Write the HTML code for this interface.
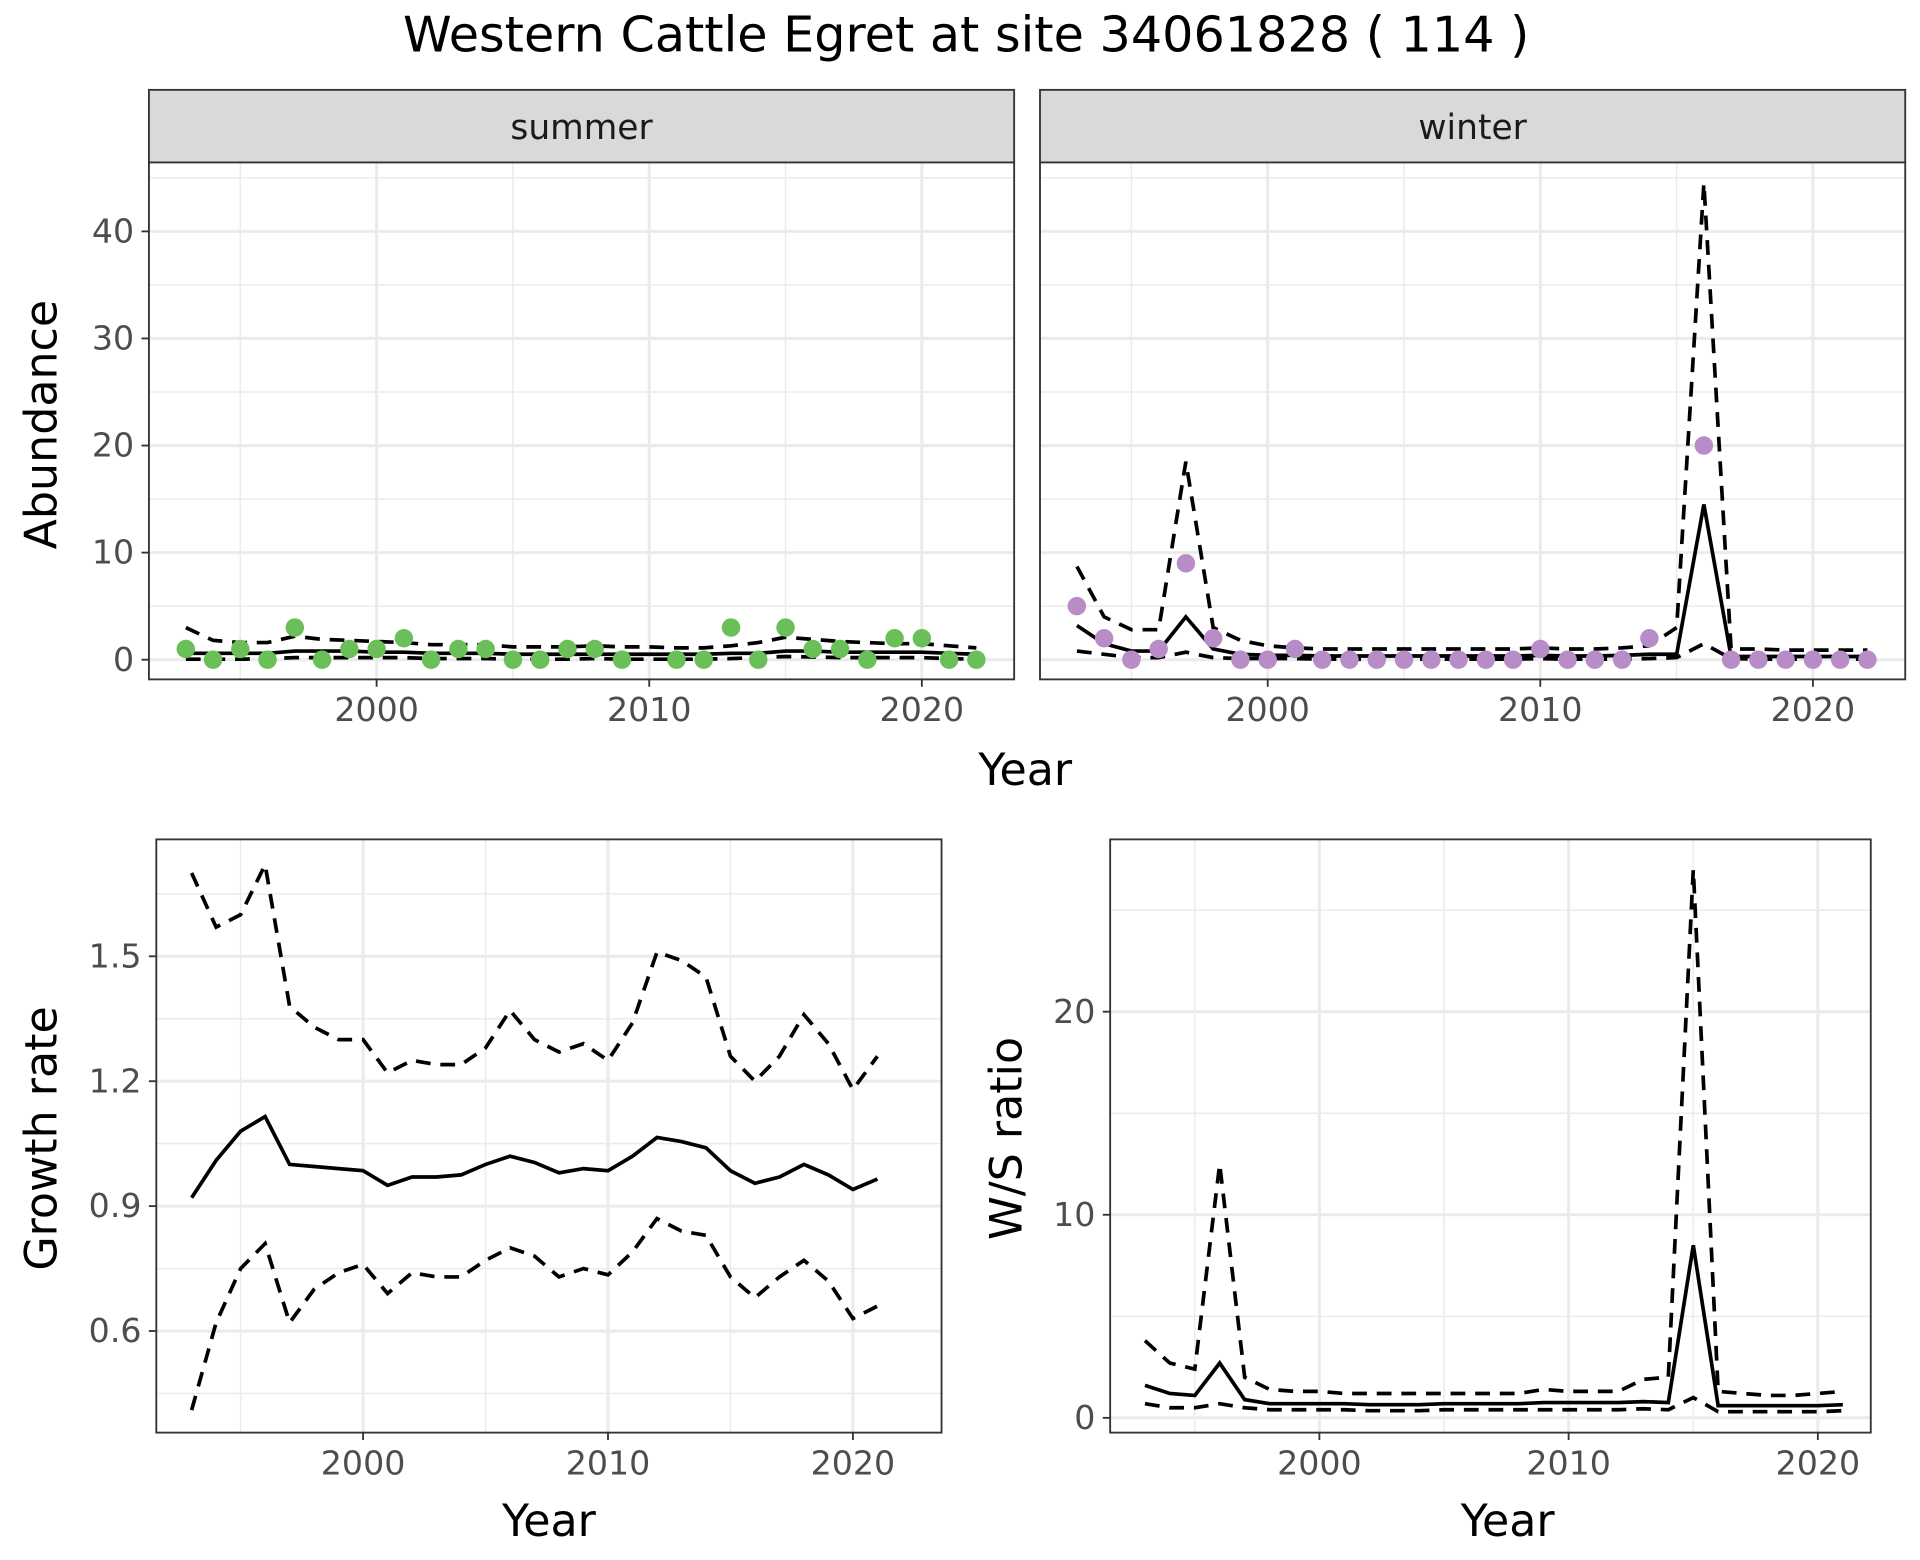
<!DOCTYPE html>
<html><head><meta charset="utf-8"><style>html,body{margin:0;padding:0;background:#fff}svg{display:block}text{font-family:"DejaVu Sans","Liberation Sans",sans-serif}</style></head>
<body>
<svg id="s" width="1920" height="1560" viewBox="0 0 1560 1267.5" preserveAspectRatio="none" xmlns="http://www.w3.org/2000/svg"></svg>
<script>
const S=document.getElementById('s');let h='';
function add(x){h+=x;}
function T(x,y,t,o){o=o||{};add(`<text x="${x}" y="${y}" font-size="${o.fs||27}" fill="${o.c||'#4d4d4d'}" text-anchor="${o.a||'middle'}" ${o.r?`transform="rotate(-90 ${x} ${y})"`:''}>${t}</text>`);}
function panel(P){
 const {x0,x1,y0,y1,X,Y}=P;
 add(`<rect x="${x0}" y="${y0}" width="${x1-x0}" height="${y1-y0}" fill="#fff"/>`);
 P.ymin.forEach(v=>{const y=Y(v);if(y>y0&&y<y1)add(`<line x1="${x0}" x2="${x1}" y1="${y}" y2="${y}" stroke="#ebebeb" stroke-width="1.2"/>`)});
 P.xmin.forEach(v=>{const x=X(v);if(x>x0&&x<x1)add(`<line y1="${y0}" y2="${y1}" x1="${x}" x2="${x}" stroke="#ebebeb" stroke-width="1.2"/>`)});
 P.ymaj.forEach(v=>{const y=Y(v);add(`<line x1="${x0}" x2="${x1}" y1="${y}" y2="${y}" stroke="#ebebeb" stroke-width="2.5"/>`);if(P.ylab){T(x0-12,y+9,P.yfmt?P.yfmt(v):v,{a:'end'});add(`<line x1="${x0-6}" x2="${x0}" y1="${y}" y2="${y}" stroke="#333" stroke-width="1.5"/>`)}});
 [2000,2010,2020].forEach(v=>{const x=X(v);add(`<line y1="${y0}" y2="${y1}" x1="${x}" x2="${x}" stroke="#ebebeb" stroke-width="2.5"/>`);T(x,y1+34,v);add(`<line y1="${y1}" y2="${y1+6}" x1="${x}" x2="${x}" stroke="#333" stroke-width="1.5"/>`)});
}
function line(P,yr,vals,dash){let d=vals.map((v,i)=>`${i?'L':'M'}${P.X(yr+i).toFixed(1)},${P.Y(v).toFixed(1)}`).join('');add(`<path d="${d}" fill="none" stroke="#000" stroke-width="3" ${dash?'stroke-dasharray="12,8"':''}/>`);}
function pts(P,yr,vals,c){vals.forEach((v,i)=>{if(v!==null)add(`<circle cx="${P.X(yr+i)}" cy="${P.Y(v)}" r="7.5" fill="${c}"/>`)});}
T(785,42,'Western Cattle Egret at site 34061828 ( 114 )',{fs:40,c:'#000'});
const topY=v=>536-v*8.7;
const TL={x0:121,x1:824,y0:132,y1:552,X:v=>306+(v-2000)*22.15,Y:topY,ymaj:[0,10,20,30,40],ymin:[5,15,25,35,45],xmin:[1995,2005,2015],ylab:true};
const TR={x0:845,x1:1548,y0:132,y1:552,X:v=>1030+(v-2000)*22.15,Y:topY,ymaj:[0,10,20,30,40],ymin:[5,15,25,35,45],xmin:[1995,2005,2015],ylab:false};
[TL,TR].forEach((P,i)=>{add(`<rect x="${P.x0}" y="73" width="${P.x1-P.x0}" height="59" fill="#d9d9d9" stroke="#333" stroke-width="1.5"/>`);panel(P);T((P.x0+P.x1)/2,113,i?'winter':'summer',{fs:28,c:'#1a1a1a'});});
const sm=[0.6,0.6,0.6,0.6,0.8,0.8,0.8,0.7,0.7,0.6,0.6,0.6,0.5,0.5,0.5,0.5,0.5,0.5,0.5,0.5,0.6,0.6,0.8,0.8,0.7,0.7,0.7,0.7,0.6,0.5];
const su=[3,1.8,1.6,1.6,2.2,1.9,1.8,1.7,1.6,1.4,1.4,1.4,1.2,1.2,1.2,1.3,1.2,1.2,1.1,1.1,1.3,1.6,2.1,1.9,1.7,1.6,1.5,1.5,1.3,1.1];
const sl=[0.05,0.05,0.05,0.1,0.2,0.2,0.2,0.2,0.2,0.1,0.1,0.1,0.05,0.05,0.05,0.1,0.05,0.05,0.05,0.05,0.1,0.2,0.3,0.25,0.2,0.2,0.2,0.2,0.1,0.05];
line(TL,1993,sm);line(TL,1993,su,1);line(TL,1993,sl,1);
pts(TL,1993,[1,0,1,0,3,0,1,1,2,0,1,1,0,0,1,1,0,null,0,0,3,0,3,1,1,0,2,2,0,0],'#6abf59');
const wm=[3.2,1.5,0.8,0.8,4,1,0.5,0.4,0.4,0.35,0.35,0.35,0.35,0.35,0.35,0.35,0.35,0.4,0.35,0.35,0.4,0.5,0.5,14.5,0.3,0.3,0.3,0.3,0.3,0.3];
const wu=[8.7,4,2.8,2.8,18.5,3,1.8,1.3,1.1,1,1,1,1,1,1,1,1,1.1,1,1,1.1,1.3,3,44.5,1,1,0.9,0.9,0.9,0.9];
const wl=[0.8,0.5,0.2,0.2,0.7,0.2,0.1,0.1,0.1,0.05,0.05,0.05,0.05,0.05,0.05,0.05,0.05,0.1,0.05,0.05,0.05,0.1,0.2,1.5,0.1,0.05,0.05,0.05,0.05,0.05];
line(TR,1993,wm);line(TR,1993,wu,1);line(TR,1993,wl,1);
pts(TR,1993,[5,2,0,1,9,2,0,0,1,0,0,0,0,0,0,0,0,1,0,0,0,2,null,20,0,0,0,0,0,0],'#b88dc7');
[TL,TR].forEach(P=>add(`<rect x="${P.x0}" y="${P.y0}" width="${P.x1-P.x0}" height="${P.y1-P.y0}" fill="none" stroke="#333" stroke-width="1.5"/>`));
T(833,638,'Year',{fs:36,c:'#000'});T(46,345,'Abundance',{fs:36,c:'#000',r:1});
const BL={x0:127,x1:765,y0:682,y1:1164,X:v=>295+(v-2000)*19.9,Y:v=>777+(1.5-v)*338.3,ymaj:[0.6,0.9,1.2,1.5],ymin:[0.45,0.75,1.05,1.35,1.65],xmin:[1995,2005,2015],ylab:true,yfmt:v=>v.toFixed(1)};
panel(BL);
line(BL,1993,[0.92,1.01,1.08,1.115,1.0,0.995,0.99,0.985,0.95,0.97,0.97,0.975,1.0,1.02,1.005,0.98,0.99,0.985,1.02,1.065,1.055,1.04,0.985,0.955,0.97,1.0,0.975,0.94,0.965]);
line(BL,1993,[1.7,1.57,1.6,1.72,1.38,1.33,1.3,1.3,1.22,1.25,1.24,1.24,1.28,1.37,1.3,1.27,1.29,1.25,1.34,1.51,1.49,1.45,1.26,1.2,1.26,1.36,1.29,1.18,1.26],1);
line(BL,1993,[0.41,0.62,0.75,0.81,0.62,0.7,0.74,0.76,0.69,0.74,0.73,0.73,0.77,0.8,0.78,0.73,0.75,0.735,0.79,0.87,0.84,0.83,0.73,0.68,0.73,0.77,0.72,0.63,0.66],1);
add(`<rect x="127" y="682" width="638" height="482" fill="none" stroke="#333" stroke-width="1.5"/>`);
T(446,1248,'Year',{fs:36,c:'#000'});T(46,925,'Growth rate',{fs:36,c:'#000',r:1});
const BR={x0:902,x1:1520,y0:682,y1:1164,X:v=>1072+(v-2000)*20.25,Y:v=>1152-v*16.5,ymaj:[0,10,20],ymin:[5,15,25],xmin:[1995,2005,2015],ylab:true};
panel(BR);
line(BR,1993,[1.6,1.2,1.1,2.7,0.9,0.7,0.7,0.7,0.7,0.65,0.65,0.65,0.7,0.7,0.7,0.7,0.75,0.75,0.75,0.75,0.8,0.75,8.5,0.6,0.6,0.6,0.6,0.6,0.65]);
line(BR,1993,[3.8,2.7,2.4,12.5,2.0,1.4,1.3,1.3,1.2,1.2,1.2,1.2,1.2,1.2,1.2,1.2,1.4,1.3,1.3,1.3,1.9,2.0,27,1.3,1.2,1.1,1.1,1.2,1.3],1);
line(BR,1993,[0.7,0.5,0.5,0.7,0.5,0.4,0.4,0.4,0.4,0.35,0.35,0.35,0.4,0.4,0.4,0.4,0.4,0.4,0.4,0.4,0.45,0.4,1.0,0.3,0.3,0.3,0.3,0.3,0.35],1);
add(`<rect x="902" y="682" width="618" height="482" fill="none" stroke="#333" stroke-width="1.5"/>`);
T(1225,1248,'Year',{fs:36,c:'#000'});T(830,925,'W/S ratio',{fs:36,c:'#000',r:1});
S.innerHTML=h;
</script>
</body></html>
